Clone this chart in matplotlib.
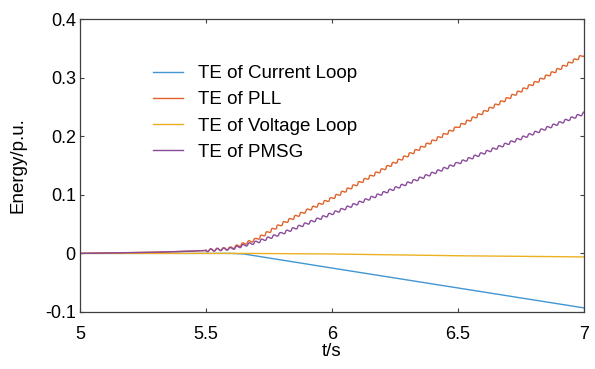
import matplotlib
matplotlib.use("Agg")
import matplotlib.pyplot as plt
from matplotlib.lines import Line2D

# Transient energy of each control loop, read at coarse time steps
t_osc = [5.0, 5.3, 5.45, 5.5, 5.6, 5.7, 5.8, 5.9, 6.0, 6.5, 7.0]
te_pll = [0.0, 0.002, 0.004, 0.005, 0.009, 0.024, 0.050, 0.073, 0.094, 0.216, 0.339]
te_pmsg = [0.0, 0.002, 0.004, 0.005, 0.008, 0.019, 0.034, 0.051, 0.068, 0.154, 0.239]

t_loop = [5.0, 5.6, 5.65, 6.0, 6.5, 7.0]
te_current = [0.0, 0.0, -0.001, -0.025, -0.059, -0.093]
te_voltage = [0.0, 0.0, 0.0, -0.001, -0.004, -0.006]

# oscillation becomes visible once the PLL starts pumping energy
ripple_from = 3  # index into t_osc

labels = ["TE of Current Loop", "TE of PLL", "TE of Voltage Loop", "TE of PMSG"]
colors = ["#4196d3", "#e0622a", "#edb120", "#8a4a9a"]

plt.rcParams["font.family"] = ["Liberation Sans", "DejaVu Sans"]

fig = plt.figure(figsize=(5.95, 3.69), dpi=100)
ax = fig.add_axes([80 / 595, 1 - 312 / 369, 504 / 595, 293 / 369])

lw = 1.0
ax.plot(t_loop, te_current, color=colors[0], lw=lw)
ax.plot(t_loop, te_voltage, color=colors[2], lw=lw)

for vals, col in [(te_pll, colors[1]), (te_pmsg, colors[3])]:
    ax.plot(t_osc[:ripple_from + 1], vals[:ripple_from + 1], color=col, lw=lw)
    wavy, = ax.plot(t_osc[ripple_from:], vals[ripple_from:], color=col, lw=lw)
    wavy.set_sketch_params(scale=1.3, length=6.5, randomness=1.0)

ax.set_xlim(5, 7)
ax.set_ylim(-0.1, 0.4)
ax.set_xticks([5, 5.5, 6, 6.5, 7])
ax.set_xticklabels(["5", "5.5", "6", "6.5", "7"])
ax.set_yticks([-0.1, 0, 0.1, 0.2, 0.3, 0.4])
ax.set_yticklabels(["-0.1", "0", "0.1", "0.2", "0.3", "0.4"])

for side in ax.spines.values():
    side.set_color("#404040")
    side.set_linewidth(0.9)
ax.tick_params(direction="in", top=True, right=True, length=3, width=0.8,
               color="#404040", labelsize=13)
ax.tick_params(axis="x", pad=10)
ax.tick_params(axis="y", pad=3)

ax.set_xlabel("t/s", fontsize=13.5, labelpad=0)
ax.set_ylabel("Energy/p.u.", fontsize=13.5, labelpad=13)

handles = [Line2D([], [], color=c, lw=lw) for c in colors]
ax.legend(handles, labels, loc="upper left", bbox_to_anchor=(0.130, 0.868),
          frameon=False, fontsize=13.5, handlelength=1.6, handletextpad=0.8,
          labelspacing=0.48, borderaxespad=0)

fig.savefig("out.png", dpi=100, facecolor="white")
